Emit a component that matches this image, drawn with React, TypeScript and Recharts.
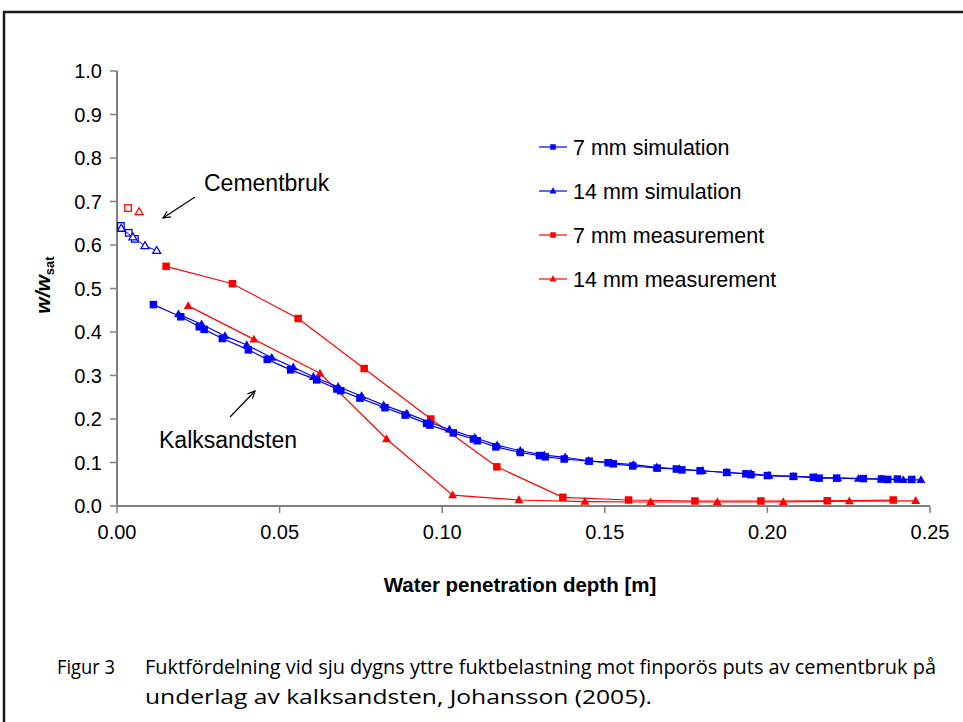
import React from "react";
import { ScatterChart, Scatter, XAxis, YAxis } from "recharts";

// ---- data ----
const sim7X = [0.0112, 0.0196, 0.0253, 0.0268, 0.0324, 0.0404, 0.0462, 0.0534, 0.0614, 0.0676, 0.0688, 0.0747, 0.0824, 0.0886, 0.0952, 0.0962, 0.1034, 0.1096, 0.1108, 0.1165, 0.124, 0.1299, 0.1317, 0.1375, 0.1452, 0.151, 0.1526, 0.1586, 0.1661, 0.172, 0.1737, 0.1793, 0.1875, 0.1934, 0.1949, 0.2, 0.208, 0.2141, 0.2159, 0.2213, 0.2295, 0.2351, 0.237, 0.24, 0.2444];
const sim7Y = [0.463, 0.435, 0.412, 0.406, 0.385, 0.359, 0.337, 0.313, 0.29, 0.269, 0.265, 0.248, 0.226, 0.209, 0.19, 0.186, 0.168, 0.154, 0.15, 0.136, 0.123, 0.116, 0.113, 0.108, 0.103, 0.0995, 0.097, 0.092, 0.087, 0.085, 0.083, 0.081, 0.077, 0.074, 0.072, 0.07, 0.068, 0.066, 0.064, 0.064, 0.063, 0.062, 0.061, 0.062, 0.061];

const sim14X = [0.0189, 0.026, 0.0332, 0.0399, 0.0476, 0.0542, 0.0604, 0.068, 0.0752, 0.082, 0.0891, 0.096, 0.1022, 0.11, 0.1169, 0.124, 0.1314, 0.1378, 0.145, 0.152, 0.1588, 0.166, 0.173, 0.18, 0.1875, 0.195, 0.2005, 0.208, 0.215, 0.2216, 0.228, 0.235, 0.2418, 0.2472];
const sim14Y = [0.441, 0.418, 0.391, 0.37, 0.341, 0.319, 0.297, 0.274, 0.253, 0.232, 0.213, 0.193, 0.176, 0.157, 0.14, 0.127, 0.117, 0.112, 0.104, 0.099, 0.095, 0.089, 0.085, 0.081, 0.077, 0.074, 0.07, 0.068, 0.066, 0.064, 0.063, 0.062, 0.06, 0.06];

const meas7X = [0.0151, 0.0355, 0.0557, 0.076, 0.0965, 0.1168, 0.1371, 0.1573, 0.1777, 0.198, 0.2184, 0.2387];
const meas7Y = [0.551, 0.511, 0.431, 0.316, 0.2, 0.09, 0.02, 0.0138, 0.0115, 0.0115, 0.012, 0.0138];

const meas14X = [0.0219, 0.0421, 0.0624, 0.0829, 0.1032, 0.1236, 0.1439, 0.1641, 0.1846, 0.2049, 0.2252, 0.2456];
const meas14Y = [0.46, 0.383, 0.305, 0.154, 0.025, 0.0138, 0.01, 0.0092, 0.0092, 0.0092, 0.011, 0.012];

// Cementbruk (open markers)
const cemSim7X = [0.0012, 0.0036, 0.0055];
const cemSim7Y = [0.644, 0.628, 0.614];
const cemSim14X = [0.0013, 0.0049, 0.0086, 0.0122];
const cemSim14Y = [0.638, 0.618, 0.598, 0.587];
const cemMeas7X = [0.0034];
const cemMeas7Y = [0.685];
const cemMeas14X = [0.0068];
const cemMeas14Y = [0.676];

const xTicks = [0, 0.05, 0.1, 0.15, 0.2, 0.25];
const yTicks = [0, 0.1, 0.2, 0.3, 0.4, 0.5, 0.6, 0.7, 0.8, 0.9, 1.0];

const legendLabels = ["7 mm simulation", "14 mm simulation", "7 mm measurement", "14 mm measurement"];
const captionLabel = "Figur 3";
const captionLines = [
  "Fuktfördelning vid sju dygns yttre fuktbelastning mot finporös puts av cementbruk på",
  "underlag av kalksandsten, Johansson (2005).",
];

const zip = (xs: number[], ys: number[]) => xs.map((x, i) => ({ x, y: ys[i] }));

const BLUE = "#0000FF";
const RED = "#FF0000";
const FONT = "'Liberation Sans', Arial, sans-serif";
const CAP_FONT = "'Open Sans', 'Noto Sans', sans-serif";

const Square = (props: any) => {
  const { cx, cy, fill, open, s = 7.5 } = props;
  if (cx == null || cy == null) return null;
  return open ? (
    <rect x={cx - s / 2} y={cy - s / 2} width={s} height={s} fill="#fff" stroke={fill} strokeWidth={1.3} />
  ) : (
    <rect x={cx - s / 2} y={cy - s / 2} width={s} height={s} fill={fill} />
  );
};

const Tri = (props: any) => {
  const { cx, cy, fill, open, s = 9 } = props;
  if (cx == null || cy == null) return null;
  const h = s * 0.87;
  const pts = `${cx},${cy - h * 0.6} ${cx + s / 2},${cy + h * 0.4} ${cx - s / 2},${cy + h * 0.4}`;
  return open ? (
    <polygon points={pts} fill="#fff" stroke={fill} strokeWidth={1.3} />
  ) : (
    <polygon points={pts} fill={fill} />
  );
};

const Arrow = ({ x1, y1, x2, y2 }: { x1: number; y1: number; x2: number; y2: number }) => {
  const dx = x1 - x2;
  const dy = y1 - y2;
  const len = Math.hypot(dx, dy);
  const bx = dx / len;
  const by = dy / len;
  const a = (25 * Math.PI) / 180;
  const L = 8;
  const w1x = x2 + L * (bx * Math.cos(a) - by * Math.sin(a));
  const w1y = y2 + L * (bx * Math.sin(a) + by * Math.cos(a));
  const w2x = x2 + L * (bx * Math.cos(-a) - by * Math.sin(-a));
  const w2y = y2 + L * (bx * Math.sin(-a) + by * Math.cos(-a));
  return (
    <g stroke="#000" strokeWidth={1.2} fill="none">
      <line x1={x1} y1={y1} x2={x2} y2={y2} />
      <polyline points={`${w1x},${w1y} ${x2},${y2} ${w2x},${w2y}`} />
    </g>
  );
};

export default function App() {
  const W = 963;
  const H = 722;
  const legendRows = [147, 191, 235, 279];
  return (
    <div style={{ position: "absolute", left: 0, top: 0, width: W, height: H, background: "#fff" }}>
      <ScatterChart width={W} height={H} margin={{ top: 71, right: 33, bottom: 176, left: 57 }}>
        <XAxis
          type="number"
          dataKey="x"
          domain={[0, 0.25]}
          ticks={xTicks}
          tickFormatter={(v: number) => v.toFixed(2)}
          height={40}
          tickSize={7}
          tickMargin={12}
          axisLine={{ stroke: "#808080", strokeWidth: 2 }}
          tickLine={{ stroke: "#808080", strokeWidth: 1.5 }}
          tick={{ fill: "#000", fontSize: 20, fontFamily: FONT }}
          allowDataOverflow
        />
        <YAxis
          type="number"
          dataKey="y"
          domain={[0, 1]}
          ticks={yTicks}
          tickFormatter={(v: number) => v.toFixed(1)}
          width={60}
          tickSize={7}
          tickMargin={8}
          axisLine={{ stroke: "#808080", strokeWidth: 2 }}
          tickLine={{ stroke: "#808080", strokeWidth: 1.5 }}
          tick={{ fill: "#000", fontSize: 20, fontFamily: FONT }}
          allowDataOverflow
        />
        <Scatter data={zip(meas7X, meas7Y)} fill={RED} line={{ stroke: RED, strokeWidth: 1.2 }} shape={<Square />} isAnimationActive={false} />
        <Scatter data={zip(meas14X, meas14Y)} fill={RED} line={{ stroke: RED, strokeWidth: 1.2 }} shape={<Tri />} isAnimationActive={false} />
        <Scatter data={zip(sim14X, sim14Y)} fill={BLUE} line={{ stroke: BLUE, strokeWidth: 1.2 }} shape={<Tri />} isAnimationActive={false} />
        <Scatter data={zip(sim7X, sim7Y)} fill={BLUE} line={{ stroke: BLUE, strokeWidth: 1.2 }} shape={<Square />} isAnimationActive={false} />
        <Scatter data={zip(cemSim7X, cemSim7Y)} fill={BLUE} line={{ stroke: BLUE, strokeWidth: 1 }} shape={<Square open s={6.5} />} isAnimationActive={false} />
        <Scatter data={zip(cemSim14X, cemSim14Y)} fill={BLUE} line={{ stroke: BLUE, strokeWidth: 1 }} shape={<Tri open s={8} />} isAnimationActive={false} />
        <Scatter data={zip(cemMeas7X, cemMeas7Y)} fill={RED} shape={<Square open s={6.5} />} isAnimationActive={false} />
        <Scatter data={zip(cemMeas14X, cemMeas14Y)} fill={RED} shape={<Tri open s={8} />} isAnimationActive={false} />
      </ScatterChart>
      <svg width={W} height={H} style={{ position: "absolute", left: 0, top: 0, pointerEvents: "none" }}>
        <rect x={4} y={12} width={1000} height={800} fill="none" stroke="#1a1a1a" strokeWidth={2.5} />
        {/* legend */}
        {legendLabels.map((lab, i) => {
          const y = legendRows[i];
          const col = i < 2 ? BLUE : RED;
          return (
            <g key={lab}>
              <line x1={539} y1={y} x2={567} y2={y} stroke={col} strokeWidth={1.2} />
              {i % 2 === 0 ? <Square cx={553} cy={y} fill={col} s={5.5} /> : <Tri cx={553} cy={y} fill={col} s={7} />}
              <text x={573} y={y + 7.5} fontSize={21.5} fontFamily={FONT} fill="#000">
                {lab}
              </text>
            </g>
          );
        })}
        {/* annotations */}
        <text x={204} y={191} fontSize={23} fontFamily={FONT} fill="#000">Cementbruk</text>
        <Arrow x1={195} y1={197} x2={163} y2={218} />
        <text x={159} y={448} fontSize={23} fontFamily={FONT} fill="#000">Kalksandsten</text>
        <Arrow x1={230} y1={417} x2={255} y2={391} />
        {/* axis titles */}
        <text x={520} y={592} textAnchor="middle" fontSize={20.5} fontWeight="bold" fontFamily={FONT} fill="#000">
          Water penetration depth [m]
        </text>
        <text x={50} y={285} transform="rotate(-90 50 285)" textAnchor="middle" fontWeight="bold" fontSize={21} fontFamily={FONT} fill="#000">
          <tspan fontStyle="italic">w/w</tspan>
          <tspan fontSize={13} dy={4}>sat</tspan>
        </text>
        {/* caption */}
        <text x={57} y={674} fontSize={19.5} fontFamily={CAP_FONT} fill="#000" textLength={58} lengthAdjust="spacingAndGlyphs">{captionLabel}</text>
        <text x={145} y={674} fontSize={19.5} fontFamily={CAP_FONT} fill="#000" textLength={791} lengthAdjust="spacingAndGlyphs">
          {captionLines[0]}
        </text>
        <text x={145} y={704} fontSize={19.5} fontFamily={CAP_FONT} fill="#000" textLength={507} lengthAdjust="spacingAndGlyphs">
          {captionLines[1]}
        </text>
      </svg>
    </div>
  );
}
